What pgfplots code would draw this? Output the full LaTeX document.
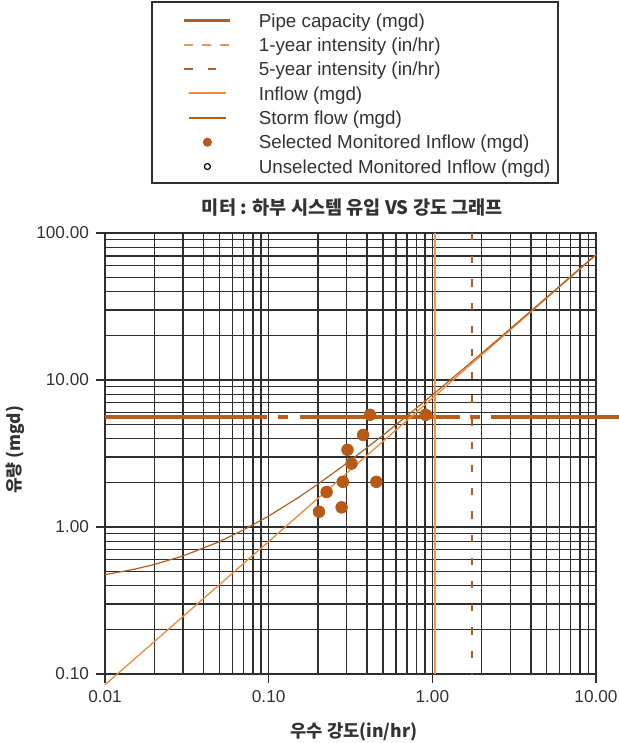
\documentclass[border=0pt]{standalone}
\usepackage{fontspec}
\setmainfont{Liberation Sans}
\newfontfamily\kr{Noto Sans CJK KR}
\usepackage{pgfplots}
\pgfplotsset{compat=1.18}
\definecolor{pipe}{HTML}{B55D1C}
\definecolor{ptc}{HTML}{B85A16}
\definecolor{inflow}{HTML}{F28A3A}
\definecolor{oneyr}{HTML}{F39448}
\definecolor{storm}{HTML}{B0601F}
\definecolor{fiveyr}{HTML}{B0601F}
\definecolor{gridc}{HTML}{2E2E2E}
\definecolor{txt}{HTML}{333333}
\begin{document}
\begin{tikzpicture}
\begin{axis}[
  at={(0,0)}, anchor=south west,
  scale only axis, width=245.5pt, height=220.5pt,
  xmode=log, ymode=log,
  xmin=0.01, xmax=10, ymin=0.1, ymax=100,
  xtick={0.01,0.1,1,10}, xticklabels={0.01,0.10,1.00,10.00},
  ytick={0.1,1,10,100}, yticklabels={0.10,1.00,10.00,100.00},
  minor xtick={0.02,0.03,0.04,0.05,0.06,0.07,0.08,0.09,0.2,0.3,0.4,0.5,0.6,0.7,0.8,0.9,2,3,4,5,6,7,8,9},
  minor ytick={0.2,0.3,0.4,0.5,0.6,0.7,0.8,0.9,2,3,4,5,6,7,8,9,20,30,40,50,60,70,80,90},
  grid=both,
  major grid style={draw=gridc, line width=0.72pt},
  minor grid style={draw=gridc, line width=0.72pt},
  tick align=outside, tick pos=left,
  major tick length=4.5pt, minor tick length=0pt,
  tick style={draw=gridc, line width=0.72pt},
  axis line style={draw=gridc, line width=0.72pt},
  ticklabel style={font=\fontsize{8.6}{10}\selectfont, text=txt},
  clip=false,
  unbounded coords=jump,
  every axis title shift=0pt,
  title={미터 : 하부 시스템 유입 VS 강도 그래프},
  title style={at={(axis description cs:0.504,1.0567)}, anchor=center, font=\kr\bfseries\fontsize{9.3}{11}\selectfont, text=txt},
  xlabel={우수 강도(in/hr)},
  xlabel style={at={(axis description cs:0.507,-0.1315)}, anchor=center, font=\kr\bfseries\fontsize{8.8}{10}\selectfont, text=txt},
  ylabel={유량 (mgd)},
  ylabel style={at={(axis description cs:-0.1833,0.508)}, anchor=center, font=\kr\bfseries\fontsize{8.6}{10}\selectfont, text=txt},
  legend cell align=left,
  legend style={draw=none, fill=none, at={(axis description cs:0.1589,1.4984)}, anchor=north west,
    inner sep=0pt, outer sep=0pt, row sep=2.65pt, column sep=13.5pt,
    font=\fontsize{9.4}{11}\selectfont, text=txt,
    nodes={inner sep=0pt, text height=7pt, text depth=2.5pt}},
]
% Pipe capacity (mgd)
\addplot[pipe, line width=1.8pt,
  legend image code/.code={\path[draw=none,fill=none] (0pt,-4pt) rectangle (23pt,2pt); \draw[pipe, line width=1.4pt, solid] (0pt,1pt) -- (23pt,1pt);}]
  coordinates {(0.01,5.6) (0.0979,5.6) (0.0979,nan) (0.1143,5.6) (0.1316,5.6) (0.1316,nan) (0.1559,5.6) (1.483,5.6) (1.483,nan) (1.708,5.6) (1.966,5.6) (1.966,nan) (2.296,5.6) (13.92,5.6)};
\addlegendentry{Pipe capacity (mgd)}
% 1-year intensity (in/hr)
\addplot[oneyr, line width=0.85pt,
  legend image code/.code={\path[draw=none,fill=none] (0pt,-4pt) rectangle (23pt,2pt); \draw[oneyr, line width=0.85pt, dash pattern=on 4.5pt off 4.5pt] (0pt,1pt) -- (23pt,1pt);}]
  coordinates {(1.04,0.1) (1.04,100)};
\addlegendentry{1-year intensity (in/hr)}
% 5-year intensity (in/hr)
\addplot[fiveyr, line width=0.85pt, dash pattern=on 3.6pt off 8pt,
  legend image code/.code={\path[draw=none,fill=none] (0pt,-4pt) rectangle (23pt,2pt); \draw[fiveyr, line width=0.9pt, dash pattern=on 4.25pt off 7.5pt] (0pt,1pt) -- (23pt,1pt);}]
  coordinates {(1.74,100) (1.74,0.1)};
\addlegendentry{5-year intensity (in/hr)}
% Inflow (mgd)
\addplot[inflow, line width=0.65pt,
  legend image code/.code={\path[draw=none,fill=none] (0pt,-4pt) rectangle (23pt,2pt); \draw[inflow, line width=0.9pt, solid] (2.25pt,1.25pt) -- (20.75pt,1.25pt);}]
  coordinates {(0.01,0.0844) (10,71.0)};
\addlegendentry{Inflow (mgd)}
% Storm flow (mgd)
\addplot[storm, line width=0.6pt,
  legend image code/.code={\path[draw=none,fill=none] (0pt,-4pt) rectangle (23pt,2pt); \draw[storm, line width=0.85pt, solid] (2.25pt,1pt) -- (20.75pt,1pt);}]
  coordinates {(0.01,0.474) (0.015,0.515) (0.02,0.556) (0.03,0.636) (0.05,0.795) (0.07,0.953) (0.1,1.187) (0.15,1.573) (0.2,1.956) (0.3,2.715) (0.5,4.215) (0.7,5.701) (1,7.91) (1.5,11.56) (2,15.17) (3,22.34) (5,36.51) (7,50.53) (10,71.39)};
\addlegendentry{Storm flow (mgd)}
% Selected Monitored Inflow (mgd)
\addplot[only marks, mark=*, mark size=2.9pt, color=ptc, mark options={draw=ptc, fill=ptc},
  legend image code/.code={\path[draw=none,fill=none] (0pt,-4pt) rectangle (23pt,2pt); \fill[ptc, draw=none] (11.5pt,1pt) circle (2.3pt);}]
  coordinates {(0.416,5.80) (0.910,5.80) (0.378,4.23) (0.303,3.35) (0.321,2.70) (0.284,2.03) (0.455,2.03) (0.226,1.73) (0.279,1.36) (0.203,1.27)};
\addlegendentry{Selected Monitored Inflow (mgd)}
\addlegendimage{legend image code/.code={\path[draw=none,fill=none] (0pt,-4pt) rectangle (23pt,2pt); \draw[black, fill=none, line width=0.6pt] (11.5pt,1pt) circle (1.5pt);}}
\addlegendentry{Unselected Monitored Inflow (mgd)}
\draw[gridc, line width=0.65pt] (axis description cs:0.0957,1.1134) rectangle (axis description cs:0.9226,1.5238);
\end{axis}
\pgfresetboundingbox
\useasboundingbox (-52.5pt,-34.5pt) rectangle (257pt,337pt);
\end{tikzpicture}
\end{document}
